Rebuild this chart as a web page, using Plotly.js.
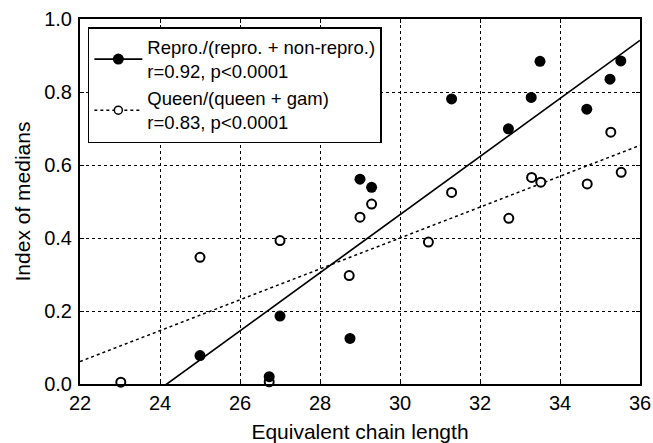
<!DOCTYPE html>
<html>
<head>
<meta charset="utf-8">
<script src="https://cdn.plot.ly/plotly-3.0.1.min.js"></script>
<style>html,body{margin:0;padding:0;background:#fff;}#chart{width:653px;height:443px;}</style>
</head>
<body>
<div id="chart"></div>
<script>
// Repro./(repro. + non-repro.) - filled circles
const reproX = [25.0, 26.73, 27.0, 28.75, 29.0, 29.29, 31.29, 32.71, 33.28, 33.5, 34.67, 35.25, 35.52];
const reproY = [0.078, 0.02, 0.186, 0.125, 0.561, 0.539, 0.781, 0.699, 0.785, 0.884, 0.753, 0.835, 0.885];
// Queen/(queen + gam) - open circles
const queenX = [23.02, 25.0, 26.73, 27.0, 28.73, 29.0, 29.29, 30.71, 31.29, 32.72, 33.29, 33.52, 34.68, 35.27, 35.53];
const queenY = [0.005, 0.347, 0.006, 0.393, 0.297, 0.457, 0.493, 0.389, 0.525, 0.454, 0.566, 0.553, 0.548, 0.690, 0.580];
// regression lines: [repro, queen]
const fitSlope = [0.0796, 0.0423];
const fitIntercept = [-1.924, -0.869];
const fitRange = [22, 36];
const legendNames = ["Repro./(repro. + non-repro.)<br>r=0.92, p<0.0001", "Queen/(queen + gam)<br>r=0.83, p<0.0001"];
const xTicks = [22, 24, 26, 28, 30, 32, 34, 36];
const yTicks = [0.0, 0.2, 0.4, 0.6, 0.8, 1.0];

function fitLine(i) {
  return { x: fitRange.slice(), y: fitRange.map(x => fitSlope[i] * x + fitIntercept[i]) };
}
const f0 = fitLine(0), f1 = fitLine(1);
const FONT = "Liberation Sans, Arial, Helvetica, sans-serif";

const traces = [
  { x: f0.x, y: f0.y, mode: "lines", line: { color: "#000", width: 1.7 }, showlegend: false, hoverinfo: "skip" },
  { x: f1.x, y: f1.y, mode: "lines", line: { color: "#000", width: 1.5, dash: "dot" }, showlegend: false, hoverinfo: "skip" },
  { x: queenX, y: queenY, mode: "markers", cliponaxis: false,
    marker: { symbol: "circle", size: 9, color: "#fff", line: { color: "#000", width: 2 } }, showlegend: false },
  { x: reproX, y: reproY, mode: "markers", cliponaxis: false,
    marker: { symbol: "circle", size: 11, color: "#000", line: { color: "#000", width: 0 } }, showlegend: false },
  { x: [null], y: [null], mode: "lines+markers", name: legendNames[0],
    line: { color: "#000", width: 1.7 }, marker: { size: 11, color: "#000" } },
  { x: [null], y: [null], mode: "lines+markers", name: legendNames[1],
    line: { color: "#000", width: 1.5, dash: "dot" }, marker: { size: 8, color: "#fff", line: { color: "#000", width: 1.5 } } }
];

const axisCommon = {
  showline: true, linecolor: "#000", linewidth: 2, mirror: "ticks",
  ticks: "inside", ticklen: 4, tickcolor: "#000", tickwidth: 1,
  showgrid: true, gridcolor: "#000", gridwidth: 1, griddash: "dot",
  zeroline: false, tickfont: { family: FONT, size: 20, color: "#000" }
};

const layout = {
  width: 653, height: 443,
  margin: { l: 80, r: 13, t: 19, b: 59 },
  paper_bgcolor: "#fff", plot_bgcolor: "#fff",
  font: { family: FONT, color: "#000" },
  xaxis: Object.assign({}, axisCommon, {
    range: [22, 36], tickvals: xTicks, ticktext: xTicks.map(String),
    ticklabelstandoff: 0,
    title: { text: "Equivalent chain length", font: { family: FONT, size: 21, color: "#000" }, standoff: 11 }
  }),
  yaxis: Object.assign({}, axisCommon, {
    range: [0, 1], tickvals: yTicks, ticktext: yTicks.map(v => v.toFixed(1)),
    ticklabelstandoff: 2,
    title: { text: "Index of medians", font: { family: FONT, size: 21, color: "#000" }, standoff: 8 }
  }),
  legend: {
    x: 0.014, y: 0.978, xanchor: "left", yanchor: "top",
    bgcolor: "#fff", bordercolor: "#000", borderwidth: 1.5,
    font: { family: FONT, size: 18.5, color: "#000" },
    tracegroupgap: 0, itemwidth: 48
  },
  showlegend: true
};

Plotly.newPlot("chart", traces, layout, { staticPlot: true, displayModeBar: false });
</script>
</body>
</html>
